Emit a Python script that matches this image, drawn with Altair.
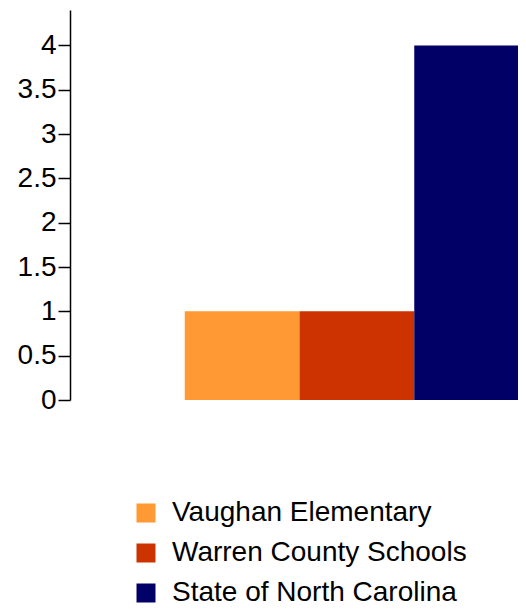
import altair as alt
import pandas as pd

categories = ["Vaughan Elementary", "Warren County Schools", "State of North Carolina"]
values = [1, 1, 4]
colors = ["#FF9933", "#CC3300", "#000066"]
y_ticks = [0, 0.5, 1, 1.5, 2, 2.5, 3, 3.5, 4]

df = pd.DataFrame({"group": categories, "value": values})

font = "Liberation Sans"

chart = alt.Chart(df).mark_bar(clip=False).encode(
    x=alt.X("group:N", scale=alt.Scale(domain=[" "] + categories, paddingInner=0, paddingOuter=0,
                                       range=[0, 459]),
            axis=None),
    y=alt.Y("value:Q", scale=alt.Scale(domain=[0, 4.4], nice=False),
            axis=alt.Axis(values=y_ticks, title=None, grid=False, labelExpr="datum.value",
                          domainColor="black", tickColor="black", tickSize=12,
                          domainWidth=1.5, tickWidth=1.5, labelPadding=2,
                          labelFont=font, labelFontSize=28, labelColor="black")),
    color=alt.Color("group:N", scale=alt.Scale(domain=categories, range=colors),
                    legend=alt.Legend(orient="none", legendX=62, legendY=489, title=None,
                                      direction="vertical", symbolType="square",
                                      symbolSize=361, symbolStrokeWidth=0,
                                      labelFont=font, labelFontSize=28, labelColor="black",
                                      labelOffset=12, rowPadding=12, padding=0,
                                      labelLimit=400)),
).properties(
    width=448, height=390,
    autosize=alt.AutoSizeParams(type="none"),
    padding={"left": 62, "top": 2, "right": 0, "bottom": 211},
).configure_view(stroke=None)

chart.save("out.html", embed_options={"renderer": "svg", "actions": False})
